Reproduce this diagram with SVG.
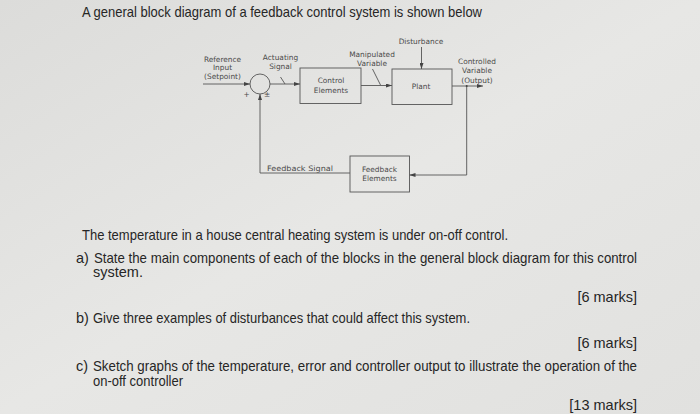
<svg xmlns="http://www.w3.org/2000/svg" width="700" height="414" viewBox="0 0 700 414">
<defs>
<linearGradient id="bg" x1="0" y1="0" x2="1" y2="1">
<stop offset="0" stop-color="#dcdcda"/>
<stop offset="0.5" stop-color="#e7e7e5"/>
<stop offset="1" stop-color="#e1e1df"/>
</linearGradient>
<marker id="ah" viewBox="0 0 6 4" refX="6" refY="2" markerWidth="6" markerHeight="4" markerUnits="userSpaceOnUse" orient="auto">
<path d="M0,0 L6,2 L0,4 Z" fill="#444"/>
</marker>
<style>
.q{font-family:"Liberation Sans Narrow","Liberation Sans",Arial,sans-serif;font-size:14.5px;fill:#262626}
.t{font-family:"Liberation Sans Narrow","Liberation Sans",Arial,sans-serif;font-size:15px;fill:#262626}
.d{font-family:"DejaVu Sans",sans-serif;font-size:7.4px;fill:#4a4a4a;text-anchor:middle}
.box{fill:none;stroke:#555;stroke-width:0.9}
.ln{fill:none;stroke:#555;stroke-width:0.9}
.arr{fill:none;stroke:#555;stroke-width:0.9;marker-end:url(#ah)}
</style>
</defs>
<rect width="700" height="414" fill="url(#bg)"/>

<text class="t" x="82" y="17" textLength="400" lengthAdjust="spacingAndGlyphs">A general block diagram of a feedback control system is shown below</text>

<g id="connectors">
<line class="arr" x1="203" y1="84" x2="250" y2="84"/>
<line class="arr" x1="270" y1="84" x2="300" y2="84"/>
<line class="ln" x1="280.5" y1="77" x2="285" y2="84"/>
<line class="arr" x1="361" y1="85.5" x2="392" y2="85.5"/>
<line class="ln" x1="372.5" y1="69" x2="380.5" y2="85"/>
<line class="arr" x1="421.5" y1="47" x2="421.5" y2="69"/>
<line class="arr" x1="452" y1="86" x2="483" y2="86"/>
<polyline class="arr" points="466.7,86 466.7,175 409.5,175"/>
<polyline class="arr" points="350,173 260,173 260,94"/>
<circle cx="466.7" cy="86" r="1" fill="#444"/>
</g>

<g id="sum">
<circle cx="260" cy="84" r="10" fill="none" stroke="#555" stroke-width="0.9"/>
<text class="d" x="246.5" y="96.5">+</text>
<text class="d" x="267" y="97">±</text>
</g>

<g id="reference">
<text class="d" x="222.5" y="61.5">Reference</text>
<text class="d" x="222.5" y="70">Input</text>
<text class="d" x="222.5" y="79">(Setpoint)</text>
</g>

<g id="actuating">
<text class="d" x="280.5" y="59.5">Actuating</text>
<text class="d" x="280.5" y="68.5">Signal</text>
</g>

<g id="control-elements">
<rect class="box" x="300" y="68" width="61" height="35.5"/>
<text class="d" x="331" y="82.5">Control</text>
<text class="d" x="331" y="92.5">Elements</text>
</g>

<g id="manipulated">
<text class="d" x="372" y="56.5">Manipulated</text>
<text class="d" x="372" y="65.5">Variable</text>
</g>

<g id="disturbance">
<text class="d" x="421" y="43.5">Disturbance</text>
</g>

<g id="plant">
<rect class="box" x="392" y="69" width="60" height="35.5"/>
<text class="d" x="421" y="88.5">Plant</text>
</g>

<g id="controlled">
<text class="d" x="477" y="64">Controlled</text>
<text class="d" x="477" y="73">Variable</text>
<text class="d" x="477" y="82.5">(Output)</text>
</g>

<g id="feedback-elements">
<rect class="box" x="350" y="156" width="59.5" height="36"/>
<text class="d" x="379.5" y="171.5">Feedback</text>
<text class="d" x="379.5" y="180.5">Elements</text>
</g>

<g id="feedback-signal">
<text class="d" x="300" y="170.5" textLength="66" lengthAdjust="spacingAndGlyphs">Feedback  Signal</text>
</g>

<text class="q" x="82" y="239.5" textLength="426" lengthAdjust="spacingAndGlyphs">The temperature in a house central heating system is under on-off control.</text>
<text class="q" x="76" y="262.5">a)</text>
<text class="q" x="94" y="262.5" textLength="543" lengthAdjust="spacingAndGlyphs">State the main components of each of the blocks in the general block diagram for this control</text>
<text class="q" x="93" y="277">system.</text>
<text class="q" x="637" y="302" text-anchor="end">[6 marks]</text>
<text class="q" x="76" y="323">b)</text>
<text class="q" x="93" y="323" textLength="377" lengthAdjust="spacingAndGlyphs">Give three examples of disturbances that could affect this system.</text>
<text class="q" x="637" y="348" text-anchor="end">[6 marks]</text>
<text class="q" x="76" y="371">c)</text>
<text class="q" x="93" y="371" textLength="544" lengthAdjust="spacingAndGlyphs">Sketch graphs of the temperature, error and controller output to illustrate the operation of the</text>
<text class="q" x="93" y="385.5" textLength="90" lengthAdjust="spacingAndGlyphs">on-off controller</text>
<text class="q" x="637" y="410" text-anchor="end">[13 marks]</text>
</svg>
